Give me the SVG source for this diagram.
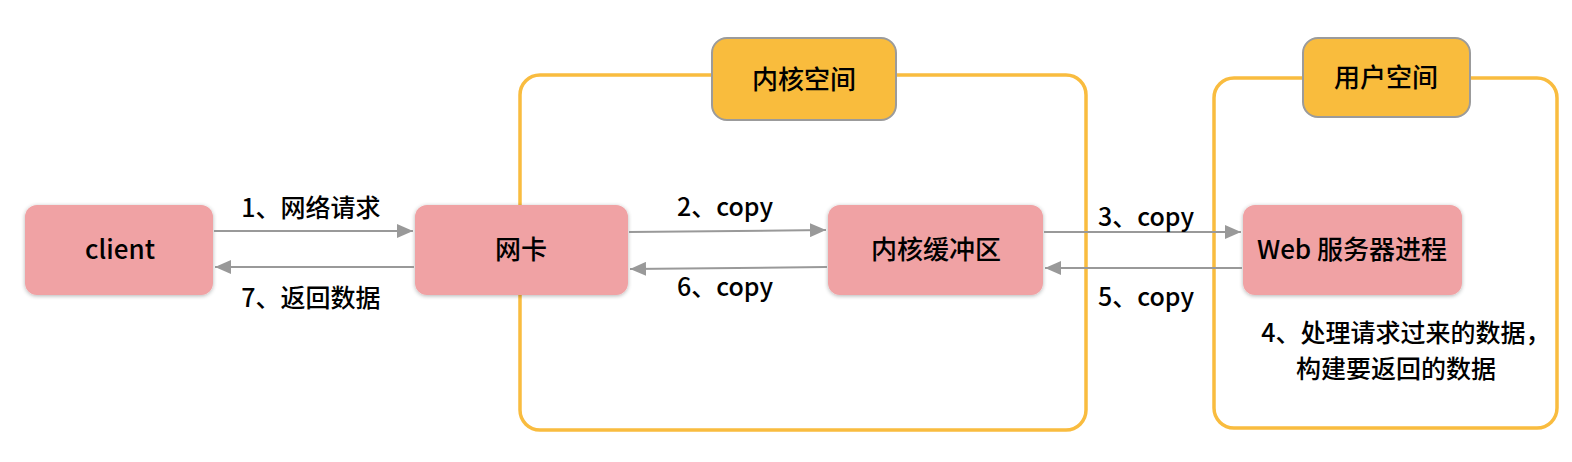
<svg xmlns="http://www.w3.org/2000/svg" width="1572" height="462" viewBox="0 0 1572 462">
<style>
.cont{fill:none;stroke:#F9BC3F;stroke-width:3.5}
.tag{fill:#F9BC3D;stroke:#9B9B9B;stroke-width:2}
.node{fill:#F0A2A4;filter:url(#sh)}
.t{font-family:"Noto Sans CJK SC","Liberation Sans",sans-serif;font-weight:500;font-size:26px;fill:#000;text-anchor:middle}
.lbl{font-family:"Noto Sans CJK SC","Liberation Sans",sans-serif;font-weight:500;font-size:25px;fill:#000;text-anchor:middle}
.c{stroke:#999;stroke-width:2;fill:none;marker-end:url(#ah)}
</style>
<defs>
<marker id="ah" viewBox="0 0 16 14" refX="16" refY="7" markerWidth="16" markerHeight="14" markerUnits="userSpaceOnUse" orient="auto">
<path d="M0,0 L16,7 L0,14 z" fill="#999"/>
</marker>
<filter id="sh" x="-10%" y="-10%" width="120%" height="130%">
<feGaussianBlur in="SourceAlpha" stdDeviation="2"/>
<feOffset dy="1"/>
<feComponentTransfer><feFuncA type="linear" slope="0.3"/></feComponentTransfer>
<feMerge><feMergeNode/><feMergeNode in="SourceGraphic"/></feMerge>
</filter>
</defs>
<rect width="1572" height="462" fill="#fff"/>
<g id="kernel-space">
<rect class="cont" x="520" y="75" width="566" height="355" rx="20"/>
<rect class="tag" x="712" y="38" width="184" height="82" rx="15"/>
<text class="t" x="804" y="89">内核空间</text>
</g>
<g id="user-space">
<rect class="cont" x="1214" y="78" width="343" height="350" rx="20"/>
<rect class="tag" x="1303" y="38" width="167" height="79" rx="15"/>
<text class="t" x="1386" y="87">用户空间</text>
</g>
<g id="client">
<rect class="node" x="25" y="205" width="188" height="90" rx="12"/>
<text class="t" x="120" y="259">client</text>
</g>
<g id="nic">
<rect class="node" x="415" y="205" width="213" height="90" rx="12"/>
<text class="t" x="521" y="259">网卡</text>
</g>
<g id="kbuf">
<rect class="node" x="828" y="205" width="215" height="90" rx="12"/>
<text class="t" x="936" y="259">内核缓冲区</text>
</g>
<g id="web">
<rect class="node" x="1243" y="205" width="219" height="90" rx="12"/>
<text class="t" x="1352" y="259">Web 服务器进程</text>
</g>
<g id="connectors">
<line class="c" x1="214" y1="231" x2="413" y2="231"/>
<line class="c" x1="414" y1="267" x2="215" y2="267"/>
<line class="c" x1="629" y1="232" x2="826" y2="230"/>
<line class="c" x1="827" y1="267" x2="630" y2="269"/>
<line class="c" x1="1044" y1="232" x2="1241" y2="232"/>
<line class="c" x1="1242" y1="268" x2="1045" y2="268"/>
</g>
<g id="labels">
<text class="lbl" x="311" y="217">1、网络请求</text>
<text class="lbl" x="311" y="307">7、返回数据</text>
<text class="lbl" x="725" y="216">2、copy</text>
<text class="lbl" x="725" y="296">6、copy</text>
<text class="lbl" x="1146" y="226">3、copy</text>
<text class="lbl" x="1146" y="306">5、copy</text>
<text class="lbl" x="1406" y="342">4、处理请求过来的数据，</text>
<text class="lbl" x="1396" y="378">构建要返回的数据</text>
</g>
</svg>
